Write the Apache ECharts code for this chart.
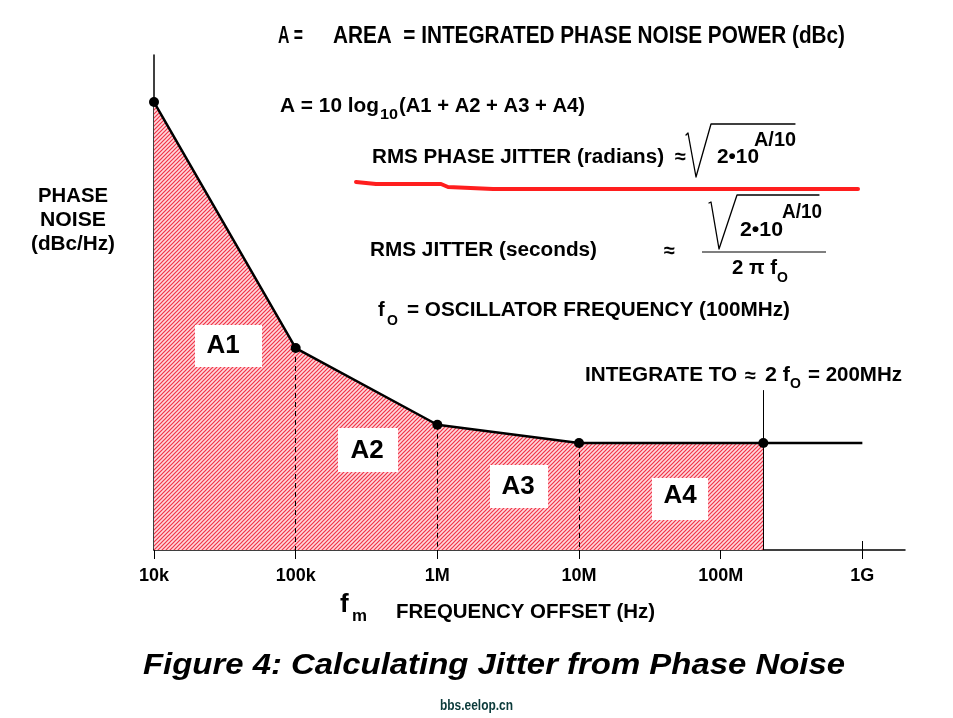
<!DOCTYPE html>
<html>
<head>
<meta charset="utf-8">
<script src="https://cdn.jsdelivr.net/npm/echarts@6/dist/echarts.min.js"></script>
<style>html,body{margin:0;padding:0;background:#fff;}#c{width:953px;height:718px;}</style>
</head>
<body>
<div id="c"></div>
<script>
// ---- data ----
const freqs = [1e4, 1e5, 1e6, 1e7, 2e8];            // Hz (corner points of the integrated region)
const noise = [-69.5, -119.2, -134.7, -138.4, -138.4]; // dBc/Hz
const extFreqs = [2e8, 1e9];                        // flat continuation beyond integration limit
const extNoise = [-138.4, -138.4];
const integrateTo = 2e8;
const integrateMarkTop = -127.7;
const tickValues = [1e4, 1e5, 1e6, 1e7, 1e8, 1e9];
const tickLabels = ['10k', '100k', '1M', '10M', '100M', '1G'];
const regionLabels = ['A1', 'A2', 'A3', 'A4'];

const FF = "'Liberation Sans', Arial, Helvetica, sans-serif";
const mctx = document.createElement('canvas').getContext('2d');

function txt(s, x1, x2, cy, size, opt) {
  opt = opt || {};
  const font = (opt.italic ? 'italic ' : '') + (opt.weight || 'bold') + ' ' + size + 'px ' + FF;
  let sx = 1;
  let align = opt.center ? 'center' : 'left';
  if (x2 != null) {
    mctx.font = font;
    const w = mctx.measureText(s).width;
    sx = (x2 - x1) / w;
  }
  return {
    type: 'text', x: opt.center ? (x2 != null ? (x1 + x2) / 2 : x1) : x1, y: cy, scaleX: sx, z: 100,
    style: { text: s, font: font, fill: opt.fill || '#000',
      textAlign: align, textVerticalAlign: 'middle', align: align, verticalAlign: 'middle' }
  };
}
function poly(pts, w, color) {
  return { type: 'polyline', z: 100, shape: { points: pts },
    style: { stroke: color || '#000', lineWidth: w || 1.3, fill: null, lineCap: 'round', lineJoin: 'round' } };
}
function box(x1, y1, x2, y2) {
  return { type: 'rect', z: 90, shape: { x: x1, y: y1, width: x2 - x1, height: y2 - y1 }, style: { fill: '#fff' } };
}

// hatch pattern
const pc = document.createElement('canvas');
pc.width = 4; pc.height = 4;
const p = pc.getContext('2d');
p.fillStyle = '#ffd8dc';
p.fillRect(0, 0, 4, 4);
p.strokeStyle = '#f03448';
p.lineWidth = 1.2;
p.beginPath();
p.moveTo(-1, 5); p.lineTo(5, -1);
p.moveTo(-1, 1); p.lineTo(1, -1);
p.moveTo(3, 5); p.lineTo(5, 3);
p.stroke();

const chart = echarts.init(document.getElementById('c'), null, { renderer: 'canvas' });

const dropLines = [];
for (let i = 1; i <= 3; i++) {
  dropLines.push([{ coord: [freqs[i], noise[i]] }, { coord: [freqs[i], -160],
    lineStyle: { type: [5, 4], color: '#000', width: 1 } }]);
}
dropLines.push([{ coord: [integrateTo, integrateMarkTop] }, { coord: [integrateTo, -160],
  lineStyle: { type: 'solid', color: '#000', width: 1 } }]);

const labelBoxes = [[195, 325, 262, 367], [338, 428, 398, 472], [490, 465, 548, 508], [652, 478, 708, 520]];
const labelCenters = [[223, 346], [367, 451], [518, 487], [680, 496]];

const graphics = [];
labelBoxes.forEach((b, i) => {
  graphics.push(box(b[0], b[1], b[2], b[3]));
  graphics.push(txt(regionLabels[i], labelCenters[i][0], null, labelCenters[i][1], 26, { center: true }));
});

graphics.push(
  txt('A =', 278, 303, 37, 23),
  txt('AREA  = INTEGRATED PHASE NOISE POWER (dBc)', 333, 845, 37, 23),
  txt('A = 10 log', 280, 379, 106, 20),
  txt('10', 380, 398, 115, 15),
  txt('(A1 + A2 + A3 + A4)', 399, 585, 106, 20),
  txt('RMS PHASE JITTER (radians)', 372, 664, 157, 20),
  txt('\u2248', 675, null, 157, 20),
  poly([[686, 135], [688, 133], [696, 177], [711, 124], [795, 124]], 1.3),
  txt('2\u202210', 717, 759, 157, 20),
  txt('A/10', 754, 796, 140, 20),
  poly([[356, 182], [376, 184], [441, 184], [448, 187], [493, 189], [858, 189]], 4, '#ff1e1e'),
  txt('RMS JITTER (seconds)', 370, 597, 250, 20),
  txt('\u2248', 664, null, 251, 20),
  poly([[709, 203], [711, 202], [719, 249], [737, 195], [819, 195]], 1.3),
  txt('A/10', 782, 822, 212, 20),
  txt('2\u202210', 740, 783, 230, 20),
  { type: 'line', z: 100, shape: { x1: 702, y1: 252, x2: 826, y2: 252 }, style: { stroke: '#000', lineWidth: 1.2 } },
  txt('2 \u03c0 f', 732, 777, 268, 20),
  txt('O', 777, null, 278, 14),
  txt('f', 378, null, 310, 20),
  txt('O', 387, null, 321, 14),
  txt('= OSCILLATOR FREQUENCY (100MHz)', 407, 790, 310, 20),
  txt('INTEGRATE TO', 585, 737, 375, 20),
  txt('\u2248', 745, null, 376, 20),
  txt('2 f', 765, 790, 375, 20),
  txt('O', 790, null, 384, 14),
  txt('= 200MHz', 808, 902, 375, 20),
  txt('PHASE', 38, 108, 196, 20, { center: true }),
  txt('NOISE', 40, 106, 220, 20, { center: true }),
  txt('(dBc/Hz)', 31, 115, 244, 20, { center: true }),
  txt('f', 340, null, 605, 26),
  txt('m', 352, 367, 617, 16),
  txt('FREQUENCY OFFSET (Hz)', 396, 655, 612, 21),
  txt('Figure 4: Calculating Jitter from Phase Noise', 143, 845, 666, 30, { italic: true }),
  txt('bbs.eelop.cn', 440, 513, 706, 14, { fill: '#0b3a3a' })
);

const option = {
  backgroundColor: '#fff',
  animation: false,
  grid: { left: 154, right: 48, top: 55, bottom: 168, containLabel: false },
  xAxis: [
    {
      type: 'log', logBase: 10, min: 1e4, max: 2e9,
      axisLine: { show: true, lineStyle: { color: '#000', width: 1.5 } },
      axisTick: { show: true, inside: true, length: 9, customValues: tickValues, lineStyle: { color: '#000', width: 1 } },
      axisLabel: {
        show: true, customValues: tickValues, margin: 17, color: '#000', fontWeight: 'bold', fontSize: 18, fontFamily: FF,
        formatter: function (v) { const i = tickValues.findIndex(t => Math.abs(Math.log10(t) - Math.log10(v)) < 1e-6); return i >= 0 ? tickLabels[i] : ''; }
      },
      splitLine: { show: false }, minorTick: { show: false }
    },
    {
      type: 'log', logBase: 10, min: 1e4, max: 2e9, position: 'bottom',
      axisLine: { show: false },
      axisTick: { show: true, inside: false, length: 9, customValues: tickValues, lineStyle: { color: '#000', width: 1 } },
      axisLabel: { show: false },
      splitLine: { show: false }
    }
  ],
  yAxis: {
    type: 'value', min: -160, max: -60,
    axisLine: { show: true, lineStyle: { color: '#000', width: 1.5 } },
    axisTick: { show: false }, axisLabel: { show: false }, splitLine: { show: false }
  },
  series: [
    {
      type: 'line', xAxisIndex: 0,
      data: freqs.map((f, i) => [f, noise[i]]),
      symbol: 'circle', symbolSize: 10, showAllSymbol: true,
      itemStyle: { color: '#000' },
      lineStyle: { color: '#000', width: 2.5 },
      areaStyle: { color: { image: pc, repeat: 'repeat' }, origin: 'start', opacity: 1 },
      silent: true, z: 3,
      markLine: { symbol: 'none', silent: true, label: { show: false }, animation: false, data: dropLines }
    },
    {
      type: 'line', xAxisIndex: 0,
      data: extFreqs.map((f, i) => [f, extNoise[i]]),
      symbol: 'none', lineStyle: { color: '#000', width: 2.5 }, silent: true, z: 2
    }
  ],
  graphic: { elements: graphics }
};
chart.setOption(option);
</script>
</body>
</html>
